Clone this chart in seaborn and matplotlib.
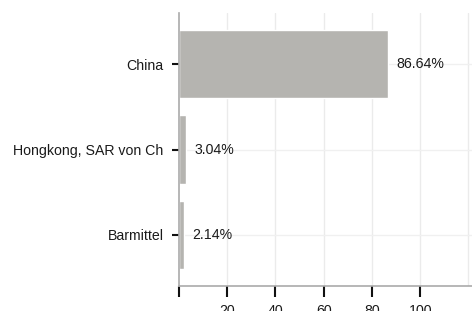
import numpy as np
import pandas as pd
import matplotlib
matplotlib.use("Agg")
import matplotlib.pyplot as plt
import seaborn as sns

# Data
countries = ["China", "Hongkong, SAR von Ch", "Barmittel"]
shares = [86.64, 3.04, 2.14]
xticks = [0, 20, 40, 60, 80, 100]
xtick_labels = ["", "20", "40", "60", "80", "100"]

df = pd.DataFrame({"country": countries, "share": shares})

sns.set_theme(style="white")
plt.rcParams["font.family"] = ["Liberation Sans", "DejaVu Sans"]

fig = plt.figure(figsize=(4.72, 3.11), dpi=100)
ax = fig.add_axes([0.379, 0.080, 0.621, 0.878])

# grid
for x in [20, 40, 60, 80, 100, 120]:
    ax.axvline(x, color="#ebebeb", lw=1, zorder=0)
for i in range(len(countries)):
    ax.axhline(i, color="#f0f0f0", lw=1, zorder=0)

sns.barplot(data=df, x="share", y="country", color="#b5b4b0",
            saturation=1, width=0.8, ax=ax, zorder=2)

for i, v in enumerate(shares):
    ax.text(v + 3.6, i, f"{v:.2f}%", va="center", ha="left",
            fontsize=10.2, color="#1a1a1a")

ax.set_xlim(0, 121.5)
ax.set_ylim(2.6, -0.6)
ax.set_xticks(xticks)
ax.set_xticklabels(xtick_labels)
ax.set_xlabel("")
ax.set_ylabel("")

ax.tick_params(axis="y", length=5, width=1.5, color="#111111", pad=6,
               labelsize=10.2, labelcolor="#1a1a1a", left=True)
ax.tick_params(axis="x", length=8, width=1.5, color="#111111", pad=5,
               labelsize=10.2, labelcolor="#1a1a1a", bottom=True)

for s in ["top", "right"]:
    ax.spines[s].set_visible(False)
for s in ["left", "bottom"]:
    ax.spines[s].set_color("#aaaaaa")
    ax.spines[s].set_linewidth(1.2)

fig.savefig("out.png", dpi=100)
